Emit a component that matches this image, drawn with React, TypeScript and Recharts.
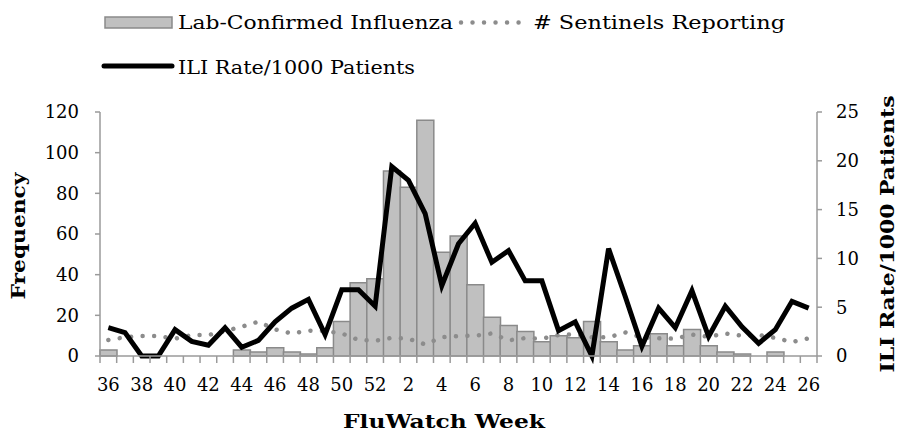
import React from 'react';
import { ComposedChart, Bar, Line, XAxis, YAxis, Label } from 'recharts';

const weeks: number[] = [36, 37, 38, 39, 40, 41, 42, 43, 44, 45, 46, 47, 48, 49, 50, 51, 52, 1, 2, 3, 4, 5, 6, 7, 8, 9, 10, 11, 12, 13, 14, 15, 16, 17, 18, 19, 20, 21, 22, 23, 24, 25, 26];
const labConfirmed: number[] = [3, 0, 0, 0, 0, 0, 0, 0, 3, 2, 4, 2, 1, 4, 17, 36, 38, 91, 83, 116, 51, 59, 35, 19, 15, 12, 7, 10, 9, 17, 7, 3, 5, 11, 5, 13, 5, 2, 1, 0, 2, 0, 0];
const sentinels: number[] = [7.9, 9.2, 9.8, 9.8, 8.5, 10.3, 10.3, 12.3, 14.4, 16.9, 13.1, 11.1, 12.5, 12.3, 11.1, 7.9, 7.5, 8.9, 8.5, 5.7, 9.2, 9.8, 10.0, 11.1, 7.7, 8.8, 8.5, 10.3, 10.7, 9.2, 9.2, 11.6, 9.2, 8.7, 8.5, 10.5, 9.5, 11.1, 10.0, 10.3, 8.9, 6.9, 8.7];
const iliRate: number[] = [2.9, 2.4, 0, 0, 2.7, 1.5, 1.1, 2.9, 0.9, 1.6, 3.5, 4.9, 5.8, 2.2, 6.8, 6.8, 5.1, 19.4, 18.0, 14.6, 7.2, 11.5, 13.6, 9.6, 10.8, 7.7, 7.7, 2.6, 3.5, 0, 11.0, 6.1, 1.0, 4.9, 2.9, 6.7, 2.0, 5.1, 3.0, 1.3, 2.7, 5.6, 4.9];
const leftTicks: number[] = [0, 20, 40, 60, 80, 100, 120];
const rightTicks: number[] = [0, 5, 10, 15, 20, 25];

const data = weeks.map((w, i) => ({
  week: String(w),
  lab: labConfirmed[i],
  sentinels: sentinels[i],
  ili: iliRate[i],
}));

const FONT = '"DejaVu Serif", serif';
const AXIS = '#9a9a9a';
const BAND = 717 / 43;

const XTick = (props: any) => {
  const { x, y, payload, index } = props;
  const idx = payload?.index ?? index;
  const half = BAND / 2;
  return (
    <g>
      <line x1={x - half} y1={y} x2={x - half} y2={y + 7} stroke={AXIS} strokeWidth={1.5} />
      {idx === weeks.length - 1 && (
        <line x1={x + half} y1={y} x2={x + half} y2={y + 7} stroke={AXIS} strokeWidth={1.5} />
      )}
      {idx % 2 === 0 && (
        <text x={x} y={y + 35} textAnchor="middle" fontFamily={FONT} fontSize={18} fill="#000">
          {payload.value}
        </text>
      )}
    </g>
  );
};

const RotLabel = ({ cx, cy, text, len }: { cx: number; cy: number; text: string; len: number }) => (
  <text
    x={cx}
    y={cy}
    transform={`rotate(-90 ${cx} ${cy})`}
    textAnchor="middle"
    dominantBaseline="central"
    fontFamily={FONT}
    fontWeight="bold"
    fontSize={18}
    fill="#000"
    textLength={len}
    lengthAdjust="spacingAndGlyphs"
  >
    {text}
  </text>
);

const LegendOverlay = () => (
  <svg width={899} height={100} style={{ position: 'absolute', left: 0, top: 0, pointerEvents: 'none' }}>
    <rect x={105} y={17} width={67} height={11} fill="#c0c0c0" stroke="#8a8a8a" strokeWidth={1.5} />
    <text x={178} y={29} fontFamily={FONT} fontSize={19} fill="#000" textLength={275} lengthAdjust="spacingAndGlyphs">
      Lab-Confirmed Influenza
    </text>
    <line x1={461} y1={22.5} x2={519} y2={22.5} stroke="#8c8c8c" strokeWidth={4.5} strokeDasharray="0.01 11.5" strokeLinecap="round" />
    <text x={533} y={29} fontFamily={FONT} fontSize={19} fill="#000" textLength={252} lengthAdjust="spacingAndGlyphs">
      # Sentinels Reporting
    </text>
    <line x1={104} y1={66} x2={172} y2={66} stroke="#000" strokeWidth={5} strokeLinecap="round" />
    <text x={178} y={74} fontFamily={FONT} fontSize={19} fill="#000" textLength={237} lengthAdjust="spacingAndGlyphs">
      ILI Rate/1000 Patients
    </text>
  </svg>
);

export default function App() {
  return (
    <div style={{ position: 'absolute', left: 0, top: 0, width: 899, height: 432, background: '#fff' }}>
      <ComposedChart
        width={899}
        height={432}
        data={data}
        margin={{ top: 112, right: 22, bottom: 46, left: 40 }}
        barCategoryGap={0}
        barGap={0}
      >
        <XAxis
          dataKey="week"
          interval={0}
          tickLine={false}
          tickSize={0}
          tickMargin={0}
          height={30}
          axisLine={{ stroke: AXIS, strokeWidth: 1.5 }}
          tick={<XTick />}
        >
          <Label
            content={() => (
              <text x={444} y={428} textAnchor="middle" fontFamily={FONT} fontWeight="bold" fontSize={18} fill="#000" textLength={202} lengthAdjust="spacingAndGlyphs">
                FluWatch Week
              </text>
            )}
          />
        </XAxis>
        <YAxis
          yAxisId="left"
          width={60}
          domain={[0, 120]}
          ticks={leftTicks}
          tickSize={5}
          tickMargin={16}
          axisLine={{ stroke: AXIS, strokeWidth: 1.5 }}
          tickLine={{ stroke: AXIS, strokeWidth: 1.5 }}
          tick={{ fill: '#000', fontSize: 18, fontFamily: FONT }}
        >
          <Label content={() => <RotLabel cx={18} cy={236} text="Frequency" len={127} />} />
        </YAxis>
        <YAxis
          yAxisId="right"
          orientation="right"
          width={60}
          domain={[0, 25]}
          ticks={rightTicks}
          tickSize={5}
          tickMargin={14}
          axisLine={{ stroke: AXIS, strokeWidth: 1.5 }}
          tickLine={{ stroke: AXIS, strokeWidth: 1.5 }}
          tick={{ fill: '#000', fontSize: 18, fontFamily: FONT, textAnchor: 'start' }}
        >
          <Label content={() => <RotLabel cx={887} cy={234} text="ILI Rate/1000 Patients" len={277} />} />
        </YAxis>
        <Bar yAxisId="left" dataKey="lab" fill="#c0c0c0" stroke="#8a8a8a" strokeWidth={1.5} isAnimationActive={false} />
        <Line
          yAxisId="left"
          type="linear"
          dataKey="sentinels"
          stroke="#8c8c8c"
          strokeWidth={4.5}
          strokeDasharray="0.01 11.5"
          strokeLinecap="round"
          dot={false}
          activeDot={false}
          isAnimationActive={false}
        />
        <Line
          yAxisId="right"
          type="linear"
          dataKey="ili"
          stroke="#000"
          strokeWidth={5}
          strokeLinejoin="miter"
          dot={false}
          activeDot={false}
          isAnimationActive={false}
        />
      </ComposedChart>
      <LegendOverlay />
    </div>
  );
}
